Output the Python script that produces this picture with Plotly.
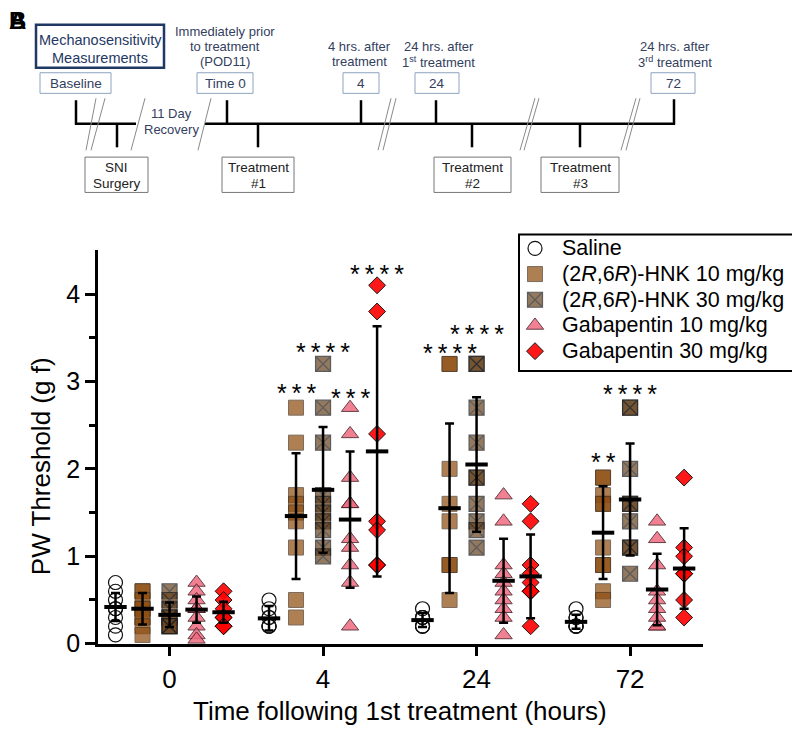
import plotly.graph_objects as go

W, H = 800, 738

# ---------------- data ----------------
time_labels = ["0", "4", "24", "72"]
time_pos = [0, 1, 2, 3]

series_names = [
    "Saline",
    "(2<i>R</i>,6<i>R</i>)-HNK 10 mg/kg",
    "(2<i>R</i>,6<i>R</i>)-HNK 30 mg/kg",
    "Gabapentin 10 mg/kg",
    "Gabapentin 30 mg/kg",
]

saline = [
    [0.7, 0.6, 0.5, 0.4, 0.4, 0.3, 0.2, 0.1],
    [0.5, 0.4, 0.3, 0.3, 0.2, 0.2, 0.2],
    [0.4, 0.3, 0.3, 0.2, 0.2, 0.2, 0.3],
    [0.4, 0.3, 0.2, 0.2, 0.2, 0.3, 0.2],
]
hnk10 = [
    [0.6, 0.6, 0.5, 0.4, 0.4, 0.3, 0.3, 0.2, 0.1],
    [2.7, 2.3, 1.7, 1.6, 1.5, 1.4, 1.1, 0.5, 0.3],
    [3.2, 3.2, 2.0, 1.6, 1.4, 0.9, 0.9, 0.5],
    [1.9, 1.9, 1.7, 1.6, 1.6, 1.1, 0.9, 0.9, 0.6, 0.5],
]
hnk30 = [
    [0.6, 0.5, 0.4, 0.3, 0.3, 0.2, 0.2, 0.2],
    [3.2, 2.7, 2.3, 1.7, 1.6, 1.5, 1.4, 1.3, 1.1, 1.0],
    [3.2, 3.2, 2.7, 2.3, 1.9, 1.9, 1.6, 1.4, 1.3, 1.1],
    [2.7, 2.7, 2.0, 1.6, 1.6, 1.4, 1.1, 1.1, 0.8],
]
gaba10 = [
    [0.7, 0.6, 0.5, 0.4, 0.4, 0.3, 0.2, 0.1, 0.05],
    [2.7, 2.4, 1.9, 1.6, 1.6, 1.2, 1.1, 0.9, 0.7, 0.2],
    [1.7, 1.4, 0.9, 0.8, 0.7, 0.6, 0.5, 0.4, 0.3, 0.1],
    [1.4, 1.2, 0.9, 0.6, 0.5, 0.4, 0.3, 0.2, 0.2],
]
gaba30 = [
    [0.6, 0.5, 0.4, 0.3, 0.3, 0.2, 0.2],
    [4.1, 3.8, 2.4, 1.4, 1.3, 0.9, 0.9],
    [1.6, 1.4, 0.9, 0.8, 0.7, 0.6, 0.6, 0.2],
    [1.9, 1.1, 1.0, 0.8, 0.8, 0.5, 0.3],
]

saline_mean = [0.42, 0.29, 0.27, 0.25]
saline_sd = [0.16, 0.14, 0.08, 0.08]
hnk10_mean = [0.40, 1.46, 1.55, 1.27]
hnk10_sd = [0.18, 0.72, 0.97, 0.53]
hnk30_mean = [0.33, 1.76, 2.05, 1.65]
hnk30_sd = [0.14, 0.72, 0.77, 0.64]
gaba10_mean = [0.39, 1.42, 0.72, 0.62]
gaba10_sd = [0.15, 0.78, 0.48, 0.41]
gaba30_mean = [0.36, 2.20, 0.77, 0.86]
gaba30_sd = [0.12, 1.43, 0.48, 0.46]

sig_time = [1, 1, 1, 1, 2, 2, 3, 3]
sig_series = [1, 2, 3, 4, 1, 2, 1, 2]
sig_text = ["***", "****", "***", "****", "****", "****", "**", "****"]
sig_y = [2.95, 3.42, 2.89, 4.31, 3.40, 3.62, 2.16, 2.94]

# ---------------- styling ----------------
OFFSETS = [-0.352, -0.176, 0.0, 0.176, 0.352]
styles = [
    dict(symbol="circle", size=14, color="rgba(255,255,255,0)", lc="#111111", lw=1.2, op=1.0),
    dict(symbol="square", size=15, color="#8f4e12", lc="#4a3520", lw=1.0, op=0.72),
    dict(symbol="square-x", size=15, color="#6a4622", lc="#1e1e1e", lw=1.2, op=0.72),
    dict(symbol="triangle-up", size=15, color="#ee6a80", lc="#4a1f25", lw=1.0, op=0.85),
    dict(symbol="diamond", size=13, color="#ff0000", lc="#000000", lw=1.0, op=0.9),
]
all_data = [saline, hnk10, hnk30, gaba10, gaba30]
all_mean = [saline_mean, hnk10_mean, hnk30_mean, gaba10_mean, gaba30_mean]
all_sd = [saline_sd, hnk10_sd, hnk30_sd, gaba10_sd, gaba30_sd]

fig = go.Figure()

for s, (name, data, st) in enumerate(zip(series_names, all_data, styles)):
    xs, ys = [], []
    for t, vals in zip(time_pos, data):
        xs += [t + OFFSETS[s]] * len(vals)
        ys += vals
    fig.add_trace(go.Scatter(
        x=xs, y=ys, mode="markers", name=name, cliponaxis=False,
        showlegend=False,
        marker=dict(symbol=st["symbol"], size=st["size"], color=st["color"],
                    opacity=st["op"], line=dict(color=st["lc"], width=st["lw"])),
        hoverinfo="y",
    ))

for s, (m, sd) in enumerate(zip(all_mean, all_sd)):
    fig.add_trace(go.Scatter(
        x=[t + OFFSETS[s] for t in time_pos], y=m, mode="markers",
        showlegend=False, cliponaxis=False, hoverinfo="skip",
        marker=dict(symbol="line-ew", size=16, line=dict(color="black", width=4)),
        error_y=dict(type="data", array=sd, visible=True, color="black",
                     thickness=2.5, width=4.5),
    ))

annotations = []
for t, s, txt, yv in zip(sig_time, sig_series, sig_text, sig_y):
    annotations.append(dict(
        x=t + OFFSETS[s], y=yv, xref="x", yref="y", text="\u2009".join(txt),
        showarrow=False, font=dict(size=25, color="black"),
        xanchor="center", yanchor="middle", yshift=-7,
    ))


# ---------------- pixel helpers for the schematic and the key ----------------
def PX(x):
    return x / W


def PY(y):
    return 1 - y / H


shapes = []


def line(x0, y0, x1, y1, color="black", width=2.5):
    shapes.append(dict(type="line", xref="paper", yref="paper",
                       x0=PX(x0), y0=PY(y0), x1=PX(x1), y1=PY(y1),
                       line=dict(color=color, width=width)))


def rect(x0, y0, x1, y1, color, width=1.0, fill="rgba(0,0,0,0)", layer="above"):
    shapes.append(dict(type="rect", xref="paper", yref="paper", layer=layer,
                       x0=PX(x0), y0=PY(y0), x1=PX(x1), y1=PY(y1),
                       line=dict(color=color, width=width), fillcolor=fill))


def text(x, y, s, size=13, color="#2f3b58", **kw):
    d = dict(x=PX(x), y=PY(y), xref="paper", yref="paper", text=s,
             showarrow=False, font=dict(size=size, color=color),
             xanchor="center", yanchor="middle")
    d.update(kw)
    annotations.append(d)


# ---------------- key (legend) ----------------
LEG_X0, LEG_Y0, LEG_X1, LEG_Y1 = 511, 231, 797, 370
LEG_ROW0, LEG_DY = 245, 26.2
rect(LEG_X0, LEG_Y0, LEG_X1, LEG_Y1, "black", 2, "white", layer="below")
for i, (name, st) in enumerate(zip(series_names, styles)):
    yy = LEG_ROW0 + i * LEG_DY
    fig.add_trace(go.Scatter(
        x=[527], y=[yy], xaxis="x2", yaxis="y2", mode="markers",
        showlegend=False, hoverinfo="skip", cliponaxis=False,
        marker=dict(symbol=st["symbol"], size=st["size"], color=st["color"],
                    opacity=st["op"], line=dict(color=st["lc"], width=st["lw"])),
    ))
    text(552, yy, name, 21.5, "#000000", xanchor="left")

NAVY = "#1f3864"
BLUE_TXT = "#33405e"
LBOX = "#8ea3c0"
GBOX = "#777777"

# main timeline
line(68, 94, 68, 119)
line(67, 118, 128, 118)
line(197, 118, 667, 118)
line(666, 93, 666, 119)
for x in [219, 353, 428]:
    line(x, 94, x, 118)
for x in [109, 250, 464, 572]:
    line(x, 118, x, 142)

# break marks
for (a, b, c, d) in [(78, 145, 88, 92), (83, 145, 97, 92), (123, 145, 137, 92),
                     (190, 145, 203, 92), (370, 145, 383, 92), (375, 145, 388, 92),
                     (512, 145, 527, 92), (516, 145, 531, 92),
                     (613, 145, 628, 92), (618, 145, 632, 92)]:
    line(a, b, c, d, color="#8a8a8a", width=1)

# boxes
rect(28, 17, 156, 61, NAVY, 2.5)
text(92, 33, "Mechanosensitivity", 14.5, NAVY)
text(92, 51, "Measurements", 14.5, NAVY)

for (x0, x1, lab) in [(32, 103, "Baseline"), (189, 245, "Time 0"), (335, 371, "4"),
                      (407, 451, "24"), (643, 687, "72")]:
    rect(x0, 66, x1, 87, LBOX, 1.0)
    text((x0 + x1) / 2, 77, lab, 13.5, BLUE_TXT)

for (x0, x1, l1, l2) in [(77, 140, "SNI", "Surgery"), (214, 286, "Treatment", "#1"),
                         (426, 503, "Treatment", "#2"), (533, 611, "Treatment", "#3")]:
    rect(x0, 152, x1, 188, GBOX, 1.0)
    text((x0 + x1) / 2, 163, l1, 13.5, "#222222")
    text((x0 + x1) / 2, 179, l2, 13.5, "#222222")

text(217, 24, "Immediately prior", 13, BLUE_TXT)
text(217, 39, "to treatment", 13, BLUE_TXT)
text(217, 55, "(POD11)", 13, BLUE_TXT)
text(351, 39, "4 hrs. after", 13, BLUE_TXT)
text(351, 55, "treatment", 13, BLUE_TXT)
text(431, 39, "24 hrs. after", 13, BLUE_TXT)
text(430, 55, "1<sup>st</sup> treatment", 13, BLUE_TXT)
text(667, 39, "24 hrs. after", 13, BLUE_TXT)
text(667, 55, "3<sup>rd</sup> treatment", 13, BLUE_TXT)
text(163, 108, "11 Day", 13, BLUE_TXT)
text(163, 124, "Recovery", 13, BLUE_TXT)

# panel letters (overlapping as in the source)
text(9, 13, "<b>B</b>", 24, "#000000")
text(9, 13, "<b>A</b>", 24, "#000000")

# axis titles
text(33, 467, "PW Threshold (g f)", 26, "#000000", textangle=-90)
text(392, 717, "Time following 1st treatment (hours)", 26, "#000000")

fig.update_layout(
    width=W, height=H,
    margin=dict(l=0, r=0, t=0, b=0),
    paper_bgcolor="white", plot_bgcolor="rgba(0,0,0,0)",
    font=dict(family="Arial, Liberation Sans, sans-serif", color="black"),
    showlegend=False,
    xaxis=dict(domain=[90 / W, 695 / W], range=[-0.466, 3.475],
               tickmode="array", tickvals=time_pos, ticktext=time_labels,
               ticks="outside", ticklen=10, tickwidth=2.5, tickcolor="black",
               showline=True, linewidth=2.5, linecolor="black",
               showgrid=False, zeroline=False, tickfont=dict(size=26)),
    yaxis=dict(domain=[(H - 648) / H, (H - 247) / H], range=[0, 4.5],
               tickmode="array", tickvals=[0, 1, 2, 3, 4],
               ticks="outside", ticklen=10, tickwidth=2.5, tickcolor="black",
               showline=True, linewidth=2.5, linecolor="black",
               showgrid=False, zeroline=False, tickfont=dict(size=25),
               minor=dict(tickmode="array", tickvals=[0.5, 1.5, 2.5, 3.5],
                          ticks="outside", ticklen=6, tickwidth=2.5,
                          tickcolor="black", showgrid=False)),
    xaxis2=dict(domain=[0, 1], range=[0, W], visible=False, anchor="y2",
                fixedrange=True),
    yaxis2=dict(domain=[0, 1], range=[H, 0], visible=False, anchor="x2",
                fixedrange=True),
    shapes=shapes,
    annotations=annotations,
)

fig.write_html("out.html")
